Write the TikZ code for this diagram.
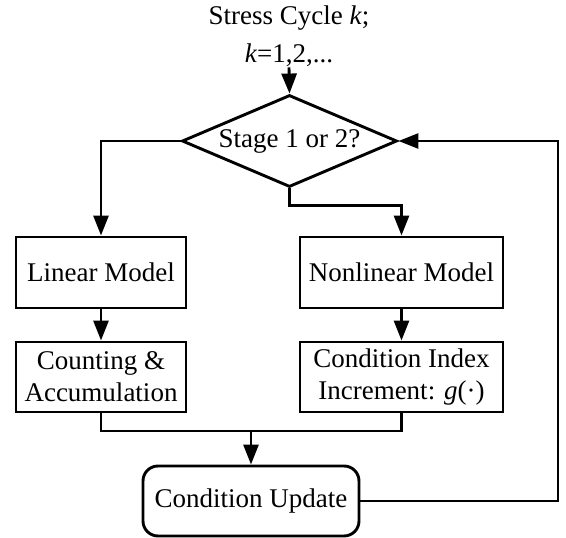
\documentclass[tikz,border=0pt]{standalone}
\usepackage{fontspec}
\setmainfont{Liberation Serif}
\usetikzlibrary{shapes.geometric,arrows.meta}
\begin{document}
\begin{tikzpicture}[x=1pt,y=-1pt,
  every node/.style={font=\fontsize{27}{32}\selectfont},
  line/.style={line width=2.9pt},
  arr/.style={line width=2.9pt,-{Triangle[length=20pt,width=15pt]}},
  box/.style={draw,line width=2.9pt,minimum height=70pt,inner sep=0pt,align=center},
  decision/.style={draw,line width=2.9pt,shape=diamond,aspect=2.34,minimum width=215pt,minimum height=92pt,inner sep=0pt},
  term/.style={draw,line width=2.9pt,rounded corners=15pt,minimum width=216pt,minimum height=70pt,inner sep=0pt}
]
\useasboundingbox (0,0) rectangle (566,538);
\node[anchor=base,inner sep=0pt] (t1) at (289,24) {Stress Cycle \textit{k};};
\node[anchor=base,inner sep=0pt] (t2) at (289,63) {\textit{k}=1,2,...};
\node[decision] (dec) at (289.5,141) {Stage 1 or 2?};
\node[box,minimum width=170pt,minimum height=71pt] (lin) at (101,272.5) {Linear Model};
\node[box,minimum width=203pt,minimum height=71pt] (nonlin) at (401.5,272.5) {Nonlinear Model};
\node[box,minimum width=170pt] (cnt) at (101,377) {Counting \&\\Accumulation};
\node[box,minimum width=203pt] (cidx) at (401.5,377) {Condition Index\\Increment: \textit{g}(·)};
\node[term] (cu) at (251,501) {Condition Update};
\coordinate (mj) at (251,431);
\coordinate (lr) at (558,0);
\draw[arr] (t2.south) -- (dec.north);
\draw[arr] (dec.west) -| (lin.north);
\draw[arr] (dec.south) -- ++(0,17) -| (nonlin.north);
\draw[arr] (lin) -- (cnt);
\draw[arr] (nonlin) -- (cidx);
\draw[line] (cnt.south) |- (mj) -| (cidx.south);
\draw[arr] (mj) -- (cu.north);
\draw[arr] (cu.east) -- (cu.east -| lr) -- (lr |- dec.east) -- (dec.east);
\end{tikzpicture}
\end{document}
